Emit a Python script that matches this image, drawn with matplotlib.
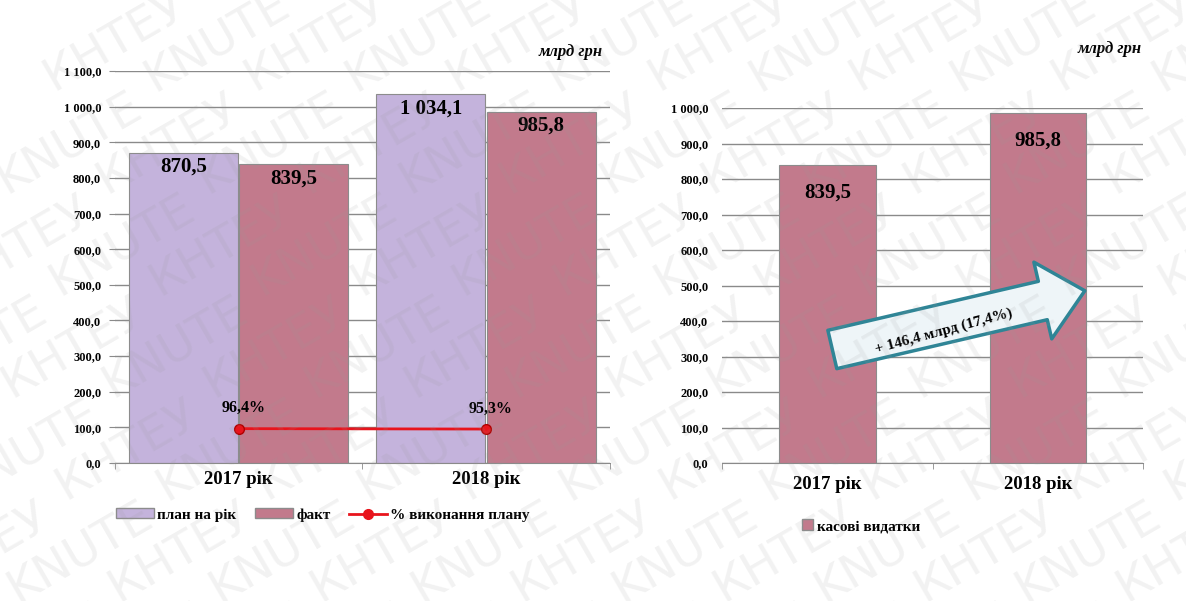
import numpy as np
import matplotlib.pyplot as plt
from matplotlib.lines import Line2D
from matplotlib.patches import Patch

plt.rcParams['font.family'] = ['Liberation Serif', 'DejaVu Serif']

years = ['2017 рік', '2018 рік']
plan = [870.5, 1034.1]
fact = [839.5, 985.8]
pct = [96.4, 95.3]
cash = [839.5, 985.8]
growth_label = '+ 146,4 млрд (17,4%)'

plan_col = '#c4b3dc'
fact_col = '#c27a8c'
edge_col = '#8c8c8c'
grid_col = '#8a8a8a'


def fmt(v):
    s = f'{v:,.1f}'.replace(',', ' ').replace('.', ',')
    return s


fig = plt.figure(figsize=(11.86, 6.01), dpi=100)
fig.patch.set_facecolor('white')

# ---- left chart
ax1 = fig.add_axes([0.097, 0.2296, 0.417, 0.6523])
x = np.arange(len(years))
w = 0.44
off = 0.223
ax1.bar(x - off, plan, w, color=plan_col, edgecolor=edge_col, linewidth=0.8, zorder=2)
ax1.bar(x + off, fact, w, color=fact_col, edgecolor=edge_col, linewidth=0.8, zorder=2)
ax1.plot(x, pct, color='#e8141c', lw=2, marker='o', ms=7,
         markerfacecolor='#e8141c', markeredgecolor='#b00000', zorder=4)
for xi, v in zip(x - off, plan):
    ax1.text(xi, v - 12, fmt(v), ha='center', va='top', fontsize=15, fontweight='bold', zorder=5)
for xi, v in zip(x + off, fact):
    ax1.text(xi, v - 12, fmt(v), ha='center', va='top', fontsize=15, fontweight='bold', zorder=5)
for xi, v in zip(x, pct):
    ax1.text(xi + 0.02, v + 35, f'{v:.1f}%'.replace('.', ','), ha='center', va='bottom',
             fontsize=11.5, fontweight='bold', zorder=5)

ax1.set_xlim(-0.5, 1.5)
ax1.set_ylim(0, 1100)
ax1.set_yticks(np.arange(0, 1101, 100))
ax1.set_yticklabels([fmt(v) for v in np.arange(0, 1101, 100)], fontsize=9, fontweight='bold')
ax1.set_xticks(x)
ax1.set_xticklabels(years, fontsize=13.5, fontweight='bold')
ax1.set_xticks([-0.5, 0.5, 1.5], minor=True)
ax1.tick_params(axis='x', which='major', length=0, pad=6)
ax1.tick_params(axis='x', which='minor', length=4, color=grid_col)
ax1.tick_params(axis='y', length=4, color=grid_col, pad=6)
ax1.grid(axis='y', color=grid_col, lw=1, zorder=0)
ax1.set_axisbelow(True)
for s in ['top', 'right', 'left']:
    ax1.spines[s].set_visible(False)
ax1.spines['bottom'].set_color(grid_col)
ax1.set_facecolor('none')

handles = [Patch(facecolor=plan_col, edgecolor=edge_col),
           Patch(facecolor=fact_col, edgecolor=edge_col),
           Line2D([0], [0], color='#e8141c', lw=2, marker='o', ms=7)]
ax1.legend(handles, ['план на рік', 'факт', '% виконання плану'], loc='upper center',
           bbox_to_anchor=(0.42, -0.08), ncol=3, frameon=False, handlelength=2.5,
           handleheight=0.6, columnspacing=1.2, handletextpad=0.2,
           prop={'weight': 'bold', 'size': 11})
fig.text(0.508, 0.913, 'млрд грн', ha='right', va='center', fontsize=12,
         fontweight='bold', style='italic')

# ---- right chart
ax2 = fig.add_axes([0.609, 0.2296, 0.355, 0.5907])
ax2.bar(x, cash, 0.46, color=fact_col, edgecolor=edge_col, linewidth=0.8, zorder=2)
for xi, v in zip(x, cash):
    ax2.text(xi, v - 50, fmt(v), ha='center', va='top',
             fontsize=15, fontweight='bold', zorder=5)
ax2.set_xlim(-0.5, 1.5)
ax2.set_ylim(0, 1000)
ax2.set_yticks(np.arange(0, 1001, 100))
ax2.set_yticklabels([fmt(v) for v in np.arange(0, 1001, 100)], fontsize=9, fontweight='bold')
ax2.set_xticks(x)
ax2.set_xticklabels(years, fontsize=13.5, fontweight='bold')
ax2.set_xticks([-0.5, 0.5, 1.5], minor=True)
ax2.tick_params(axis='x', which='major', length=0, pad=9)
ax2.tick_params(axis='x', which='minor', length=4, color=grid_col)
ax2.tick_params(axis='y', length=0, pad=10)
ax2.grid(axis='y', color=grid_col, lw=1, zorder=0)
ax2.set_axisbelow(True)
for s in ['top', 'right', 'left']:
    ax2.spines[s].set_visible(False)
ax2.spines['bottom'].set_color(grid_col)
ax2.set_facecolor('none')
ax2.legend([Patch(facecolor=fact_col, edgecolor=edge_col)], ['касові видатки'],
           loc='upper center', bbox_to_anchor=(0.33, -0.12), frameon=False,
           handlelength=0.7, handleheight=0.7, handletextpad=0.3,
           prop={'weight': 'bold', 'size': 11})
fig.text(0.963, 0.918, 'млрд грн', ha='right', va='center', fontsize=12,
         fontweight='bold', style='italic')

# growth arrow
ax2.annotate('', xy=(1.235, 487), xytext=(0.01, 318),
             arrowprops=dict(arrowstyle='simple,head_length=1.15,head_width=2.1,tail_width=1.05',
                             mutation_scale=27, facecolor='#eef5f8', edgecolor='#2f8596',
                             lw=2.5), zorder=6)
ax2.text(0.55, 372, growth_label, rotation=15, ha='center', va='center',
         fontsize=11, fontweight='bold', zorder=7, rotation_mode='anchor')

# watermark
for i in range(-2, 14):
    for j in range(-1, 7):
        word = 'KNUTE' if (i + j) % 2 == 0 else 'КНТЕУ'
        fig.text(i * 0.085 + j * 0.04, j * 0.17, word, rotation=30, fontsize=34,
                 color='#9a9a9a', alpha=0.13, family='DejaVu Sans', zorder=10)

fig.savefig('out.png', dpi=100)
